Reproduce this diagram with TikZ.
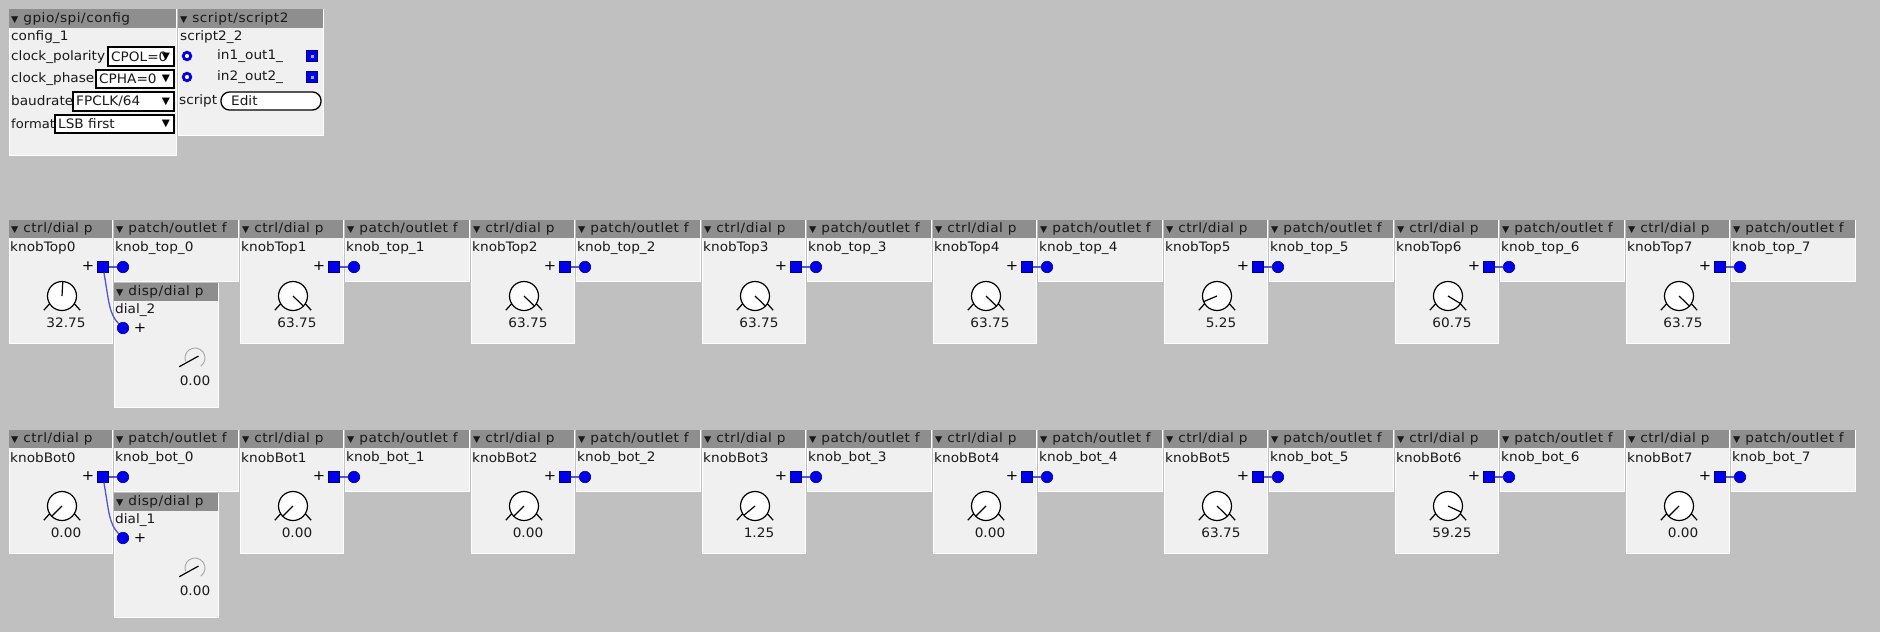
\documentclass[tikz,border=0pt]{standalone}
\usepackage{fontspec}
\setmainfont{DejaVu Sans}[FakeStretch=1.05]
\newfontfamily\hdfont{DejaVu Sans}[FakeStretch=1.05, LetterSpace=4]
\usetikzlibrary{positioning}

\definecolor{bggray}{RGB}{192,192,192}
\definecolor{boxgray}{RGB}{240,240,240}
\definecolor{headgray}{RGB}{142,142,142}
\definecolor{portblue}{RGB}{0,0,235}
\definecolor{wireblue}{RGB}{85,85,205}

\newcommand{\hdtri}{{\fontsize{9}{9}\selectfont ▼}}

\tikzset{
  objbox/.style={fill=boxgray, draw=white, line width=0.8pt},
  objhead/.style={fill=headgray},
  txt/.style={inner sep=0pt, anchor=west, text=black!90, font=\fontsize{13}{15}\selectfont},
  hdtxt/.style={txt, font=\hdfont\fontsize{13}{15}\selectfont},
  plus/.style={inner sep=0pt, text=black, font=\fontsize{14}{14}\selectfont},
  outsq/.style={draw=blue!55!black, fill=portblue, minimum size=10.5pt, inner sep=0pt, line width=0.6pt},
  incirc/.style={circle, draw=blue!55!black, fill=portblue, minimum size=11.5pt, inner sep=0pt, line width=0.6pt},
  inring/.style={circle, draw=portblue, fill=white, minimum size=7.5pt, inner sep=0pt, line width=2.8pt},
  wire/.style={wireblue, line width=1.3pt},
  knobline/.style={black, line width=1.2pt},
  dropbox/.style={fill=white, draw=black, line width=1.5pt},
  droptri/.style={inner sep=0pt, font=\fontsize{10}{10}\selectfont},
}

\begin{document}
\begin{tikzpicture}[x=1pt, y=-1pt]
  % Background
  \fill[bggray] (0,0) rectangle (1880,632);
  \useasboundingbox (0,0) rectangle (1880,632);

  % Module gpio/spi/config
  \path[objbox] (9,9) rectangle (176,155);
  \fill[objhead] (9,9) rectangle (176,28);
  \node[hdtxt] (gpiohd) at (11,19) {\hdtri\ gpio/spi/config};
  \node[txt] (gpionm) at (11,37) {config\_1};
  \node[txt] (cpolab) at (11,57) {clock\_polarity};
  \draw[dropbox] (108,47) rectangle (174,66);
  \node[txt] (cpoval) at (111,57) {CPOL=0};
  \node[droptri] (cpotri) at (166,57) {▼};
  \node[txt] (cphlab) at (11,79) {clock\_phase};
  \draw[dropbox] (96,70) rectangle (174,88);
  \node[txt] (cphval) at (99,79) {CPHA=0};
  \node[droptri] (cphtri) at (166,79) {▼};
  \node[txt] (baulab) at (11,101) {baudrate};
  \draw[dropbox] (73,92) rectangle (174,111);
  \node[txt] (bauval) at (76,101.5) {FPCLK/64};
  \node[droptri] (bautri) at (166,101.5) {▼};
  \node[txt, font=\fontsize{12.5}{15}\selectfont] (fmtlab) at (11,124) {format};
  \draw[dropbox] (55,115) rectangle (174,133);
  \node[txt] (fmtval) at (58,124) {LSB first};
  \node[droptri] (fmttri) at (166,124) {▼};

  % Module script/script2
  \path[objbox] (178,9) rectangle (323,135);
  \fill[objhead] (178,9) rectangle (323,28);
  \node[hdtxt] (scrhd) at (180,19) {\hdtri\ script/script2};
  \node[txt] (scrnm) at (180,37) {script2\_2};
  \node[inring] (scrin1) at (187,56) {};
  \node[txt] (scrio1) at (217,56) {in1\_out1\_};
  \node[outsq] (scrout1) at (312,56) {};
  \fill[blue!35!white] ([shift={(-1.5pt,-1.5pt)}]scrout1.center) rectangle ([shift={(1.5pt,1.5pt)}]scrout1.center);
  \node[inring] (scrin2) at (187,77) {};
  \node[txt] (scrio2) at (217,77) {in2\_out2\_};
  \node[outsq] (scrout2) at (312,77) {};
  \fill[blue!35!white] ([shift={(-1.5pt,-1.5pt)}]scrout2.center) rectangle ([shift={(1.5pt,1.5pt)}]scrout2.center);
  \node[txt] (scrlab) at (179,101) {script};
  \draw[black, line width=1.3pt, fill=white, rounded corners=8.5pt] (221,92) rectangle (321,110);
  \node[txt] (scredit) at (231,101) {Edit};

  % Knob modules ctrl/dial p with their patch/outlet f
  \foreach \i/\r/\v in {0/0/32.75, 1/0/63.75, 2/0/63.75, 3/0/63.75, 4/0/63.75, 5/0/5.25, 6/0/60.75, 7/0/63.75,
                        0/1/0.00, 1/1/0.00, 2/1/0.00, 3/1/1.25, 4/1/0.00, 5/1/63.75, 6/1/59.25, 7/1/0.00}{
    \pgfmathsetmacro{\x}{9+231*\i}
    \pgfmathsetmacro{\y}{220+210*\r}
    \pgfmathsetmacro{\a}{225-4.21875*\v}
    % ctrl/dial p
    \path[objbox] (\x,\y) rectangle ++(103,123);
    \fill[objhead] (\x,\y) rectangle ++(103,18);
    \node[hdtxt] (ch\r\i) at (\x+2,\y+9) {\hdtri\ ctrl/dial p};
    \node[txt] (cn\r\i) at (\x+1,\y+28) {knob\ifnum\r=0 Top\else Bot\fi\i};
    \node[plus] (cp\r\i) at (\x+79,\y+46) {+};
    \coordinate (kc\r\i) at (\x+53,\y+76);
    \draw[knobline, fill=white] (kc\r\i) circle (14.5pt);
    \draw[knobline] ([shift={(212:14.5pt)}]kc\r\i) -- ([shift={(218:23pt)}]kc\r\i);
    \draw[knobline] ([shift={(-32:14.5pt)}]kc\r\i) -- ([shift={(-38:23pt)}]kc\r\i);
    \draw[knobline] (kc\r\i) -- ++(\a:14.5pt);
    \node[txt, anchor=center] (kv\r\i) at (\x+57,\y+103) {\v};
    % patch/outlet f
    \path[objbox] (\x+105,\y) rectangle ++(124,61);
    \fill[objhead] (\x+105,\y) rectangle ++(124,18);
    \node[hdtxt] (oh\r\i) at (\x+107,\y+9) {\hdtri\ patch/outlet f};
    \node[txt] (on\r\i) at (\x+106,\y+28) {knob\_\ifnum\r=0 top\else bot\fi\_\i};
    \node[outsq] (ko\r\i) at (\x+94,\y+47) {};
    \node[incirc] (pi\r\i) at (\x+114,\y+47) {};
    \draw[wire] (ko\r\i) -- (pi\r\i);
  }

  % Display modules disp/dial p
  \foreach \r/\n in {0/2, 1/1}{
    \pgfmathsetmacro{\y}{283+210*\r}
    \path[objbox] (114,\y) rectangle ++(104,124);
    \fill[objhead] (114,\y) rectangle ++(104,18);
    \node[hdtxt] (dh\r) at (116,\y+9) {\hdtri\ disp/dial p};
    \node[txt] (dn\r) at (115,\y+27) {dial\_\n};
    \node[incirc] (di\r) at (123,\y+45) {};
    \node[plus] (dp\r) at (140,\y+45) {+};
    \coordinate (gc\r) at (195,\y+75);
    \draw[gray!70, line width=0.9pt] ([shift={(-55:10pt)}]gc\r) arc[start angle=-55, end angle=200, radius=10pt];
    \draw[knobline] ([shift={(29:4pt)}]gc\r) -- ([shift={(209:18pt)}]gc\r);
    \node[txt, anchor=center] (dv\r) at (195,\y+98) {0.00};
    \draw[wire] (ko\r0) .. controls +(6,35) and +(-14,-14) .. (di\r);
  }
\end{tikzpicture}
\end{document}
